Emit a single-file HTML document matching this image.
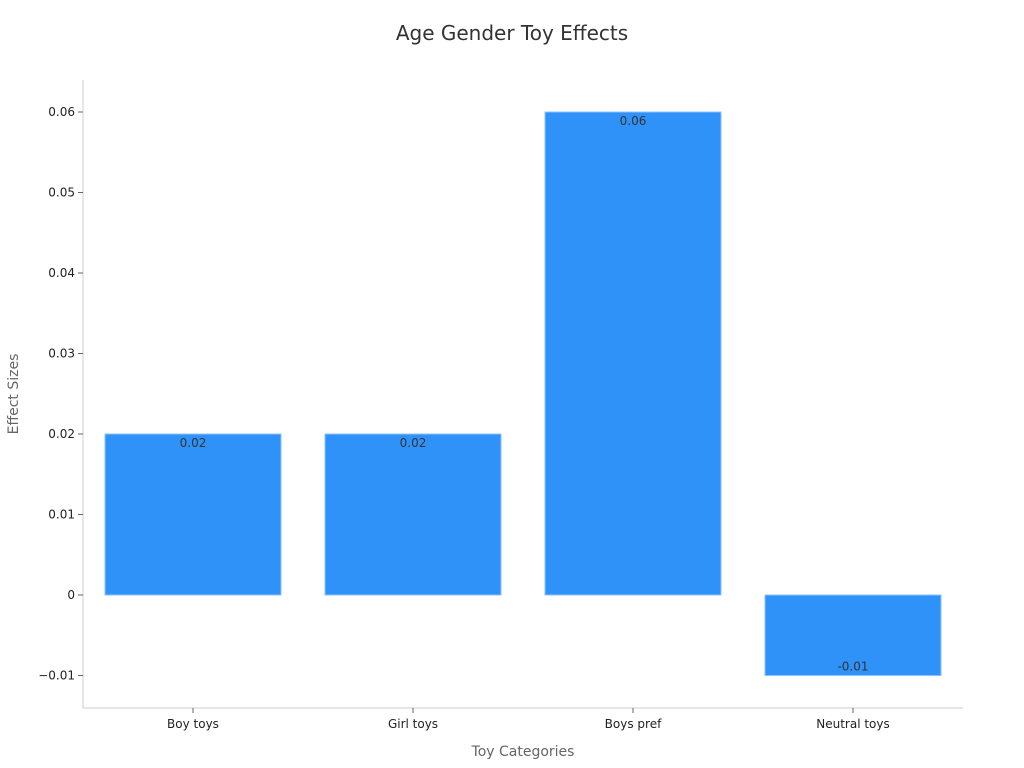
<!DOCTYPE html>
<html><head><meta charset="utf-8"><style>
html,body{margin:0;padding:0;background:#fff;}
svg{display:block;font-family:"DejaVu Sans","Liberation Sans",sans-serif;}
</style></head><body>
<svg id="chart" width="1024" height="768">
<text x="512" y="40" text-anchor="middle" font-size="20" fill="#333">Age Gender Toy Effects</text>
<g id="plot"></g>
<text x="523" y="756" text-anchor="middle" font-size="14" fill="#666">Toy Categories</text>
<text transform="translate(18,394) rotate(-90)" text-anchor="middle" font-size="14" fill="#666">Effect Sizes</text>
</svg>
<script>
const categories = ["Boy toys","Girl toys","Boys pref","Neutral toys"];
const values = [0.02,0.02,0.06,-0.01];
const labels = ["0.02","0.02","0.06","-0.01"];
const yTicks = [-0.01,0,0.01,0.02,0.03,0.04,0.05,0.06];
const yTickLabels = ["\u22120.01","0","0.01","0.02","0.03","0.04","0.05","0.06"];

const NS="http://www.w3.org/2000/svg";
const plotG=document.getElementById('plot');
const plotLeft=83,plotRight=963,plotTop=80,plotBottom=708;
const yScale=v=>595-v*8050;
const band=(plotRight-plotLeft)/categories.length;
const xScale=i=>plotLeft+band*i+band/2;
const bw=band*0.8;
function mk(t,a){const e=document.createElementNS(NS,t);for(const k in a)e.setAttribute(k,a[k]);plotG.appendChild(e);return e;}
let el;
el=mk('line',{x1:plotLeft,y1:plotTop,x2:plotLeft,y2:plotBottom,stroke:'#ccc'});


el=mk('line',{x1:plotLeft,y1:plotBottom,x2:plotRight,y2:plotBottom,stroke:'#ccc'});


yTicks.forEach((t,i)=>{
  el=mk('line',{x1:plotLeft-5,y1:yScale(t),x2:plotLeft,y2:yScale(t),stroke:'#666'});
  
  
  el=mk('text',{x:plotLeft-8,y:yScale(t)+4,'text-anchor':'end','font-size':12,fill:'#222'});
  el.textContent=yTickLabels[i];
  
  
});
categories.forEach((c,i)=>{
  const v=values[i];
  const y0=yScale(0),y1=yScale(v);
  el=mk('rect',{x:xScale(i)-bw/2,y:Math.min(y0,y1),width:bw,height:Math.abs(y1-y0),fill:'#2f92f9',stroke:'#8cc3fb','stroke-width':1});
  
  
  el=mk('text',{x:xScale(i),y:v>=0?y1+13:y1-5,'text-anchor':'middle','font-size':12,fill:'#333'});
  el.textContent=labels[i];
  
  
  el=mk('line',{x1:xScale(i),y1:plotBottom,x2:xScale(i),y2:plotBottom+5,stroke:'#666'});
  
  
  el=mk('text',{x:xScale(i),y:plotBottom+20,'text-anchor':'middle','font-size':12,fill:'#222'});
  el.textContent=c;
  
  
});
</script>
</body></html>
